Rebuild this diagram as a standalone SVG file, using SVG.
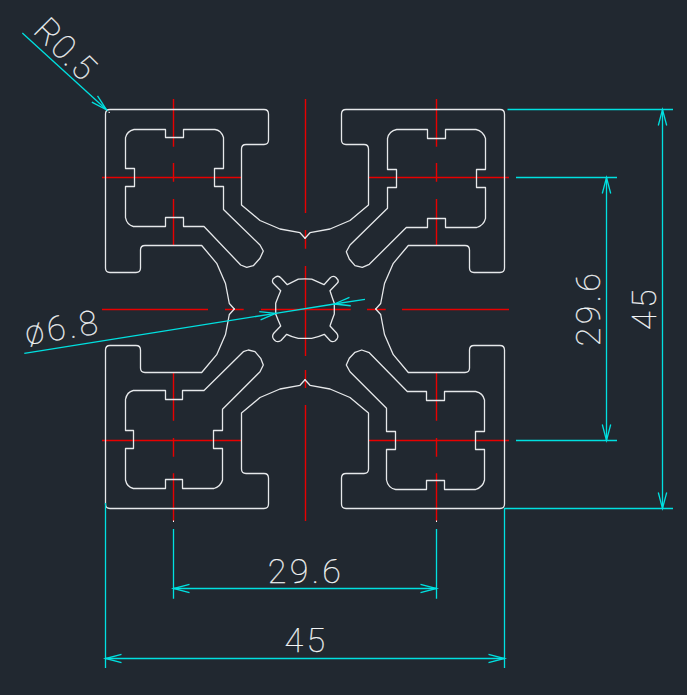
<svg xmlns="http://www.w3.org/2000/svg" width="687" height="695" viewBox="0 0 687 695">
<style>
.o{fill:none;stroke:#e6e8ea;stroke-width:1.3;stroke-linejoin:round;stroke-linecap:round}
.r{fill:none;stroke:#e80000;stroke-width:1.4}
.c{fill:none;stroke:#00e0e0;stroke-width:1.3}
.a{marker-start:url(#ah);marker-end:url(#ah)}
.e{marker-end:url(#ah)}
.t{font-family:Roboto,"Liberation Sans",sans-serif;font-weight:100;font-size:34px;letter-spacing:3.3px;fill:#f2f4f5;stroke:#f2f4f5;stroke-width:.25;text-anchor:middle}
.d{fill:#fff}
</style>
<defs>
<marker id="ah" markerUnits="userSpaceOnUse" markerWidth="20" markerHeight="12" viewBox="-18 -6 20 12" refX="0" refY="0" orient="auto-start-reverse" overflow="visible">
<path d="M-16 -4.2L0 0L-16 4.2" fill="none" stroke="#00e0e0" stroke-width="1.3"/>
</marker>
<path id="q" class="o" d="M234.3 309L229.3 303.5L225.5 283.5L216.7 263.3L201.7 245.5L145 245.5Q140.5 245.5 140.5 250L140.5 268Q140.5 272.5 136 272.5L110 272.5Q105.5 272.5 105.5 268L105.5 114Q105.5 109.5 110 109.5L264 109.5Q268.5 109.5 268.5 114L268.5 140Q268.5 144.5 264 144.5L246 144.5Q241.5 144.5 241.5 149L241.5 205L260 220.5L280 229L300 232.7L305 238.3"/>
</defs>
<rect width="687" height="695" fill="#212830"/>
<g id="center-lines" class="r">
<path d="M173.5 99V146.7M173.5 163V181.7M173.5 199V245.7M173.5 372.3V420.7M173.5 438V456.7M173.5 473.3V521"/>
<path d="M436.5 99V146.7M436.5 163V181.7M436.5 199V245.7M436.5 372.3V420.7M436.5 438V456.7M436.5 473.3V521"/>
<path d="M305.5 99V213M305.5 230V248.7M305.5 266V356M305.5 370V388M305.5 405V521"/>
<path d="M102 177.5H241M368 177.5H509M102 440.5H241M368 440.5H509"/>
<path d="M102 309.5H208M225 309.5H243.7M261 309.5H350.7M367 309.5H385.7M402 309.5H509"/>
</g>
<g id="profile">
<use href="#q"/>
<use href="#q" transform="matrix(-1 0 0 1 610 0)"/>
<use href="#q" transform="matrix(1 0 0 -1 0 618)"/>
<use href="#q" transform="matrix(-1 0 0 -1 610 618)"/>
<path id="slot-tl" class="o" d="M134 129.5H165.5V137.5H183.5V129.5H215Q221 130 223.5 137.5V168.5H214.5V186.5H223.5V209.5L260 245L263.3 251L260 258.3L253.3 265.7L246.7 267.3L240.7 265L204 226.5H183.5V217.5H165.5V226.5H133.3Q127 225 125.5 217.7V186.5H134.5V168.5H125.5V137.7Q127 131 134 129.5Z"/>
<path id="slot-tr" class="o" d="M396.7 129.5H427.5V138.5H445.5V129.5H476Q483 131 485.5 138.5V169.5H476.5V187.5H485.5V218.3Q484 225 476.7 227.5H445.5V218.5H427.5V227.5H406.3L369.3 264.3L362.3 267.3L355 265.7L349.3 259L346.3 251.7L350 245L387.5 208.3V187.5H396.5V169.5H387.5V138.5Q389 131 396.7 129.5Z"/>
<path id="slot-bl" class="o" d="M133.3 390.5H165.5V399.5H182.5V390.5H204L243.3 351.7L248.3 350L255 351.7L260.7 358.3L263.3 365L260 371.7L222.5 409.3V430.5H213.5V448.5H222.5V480Q221 486 214 488.5H182.5V479.5H165.5V488.5H133.3Q127 487 125.5 480V448.5H133.5V430.5H125.5V399.3Q127 392 133.3 390.5Z"/>
<path id="slot-br" class="o" d="M407.3 391.5H426.5V400.5H444.5V391.5H475.7Q483 393 484.5 400V431.5H475.5V449.5H484.5V480Q483 487 475.7 489.5H444.5V480.5H426.5V489.5H395.7Q388 488 386.5 480V449.5H395.5V431.5H386.5V408.3L350 371.7L346.3 365L349.3 358.3L355 352.3L361.7 350L369.3 352.7Z"/>
<path id="hole" class="o" d="M298.3 279.2Q305 278.4 311.7 279.2L324 284.7L330 278Q333 275 336 277.5L338 280Q339 282 336.5 284L330 290.7Q332 297 334.3 303.3V314Q332 320 330 326L336.5 333Q339 336 337 339L335 341Q332 342.5 330 340.5L324.3 334.3Q318 337 311.7 338.3H298.3Q292 337 286.7 334.3L281 340.5Q278 342.5 275.5 341L273.5 339Q271.5 336 274 333L280.7 326Q278 320 275.7 314V303.3Q278 297 280.7 290.7L274 284Q271.5 282 273 279L275.5 277Q278.5 275 281 278L287.3 284.7Z"/>
</g>
<g id="connectors" class="c">
<path d="M105.5 503V668M504.5 508V668M173.5 529V598.7M436.5 529V598.7"/>
<path d="M507.5 109.5H673M516 177.5H617M516 440.5H617M504 508.5H673"/>
<line class="a" x1="105.5" y1="658.5" x2="504.5" y2="658.5"/>
<line class="a" x1="173.5" y1="588.5" x2="436.5" y2="588.5"/>
<line class="a" x1="606.5" y1="177.5" x2="606.5" y2="440.5"/>
<line class="a" x1="662.5" y1="109.5" x2="662.5" y2="508.5"/>
<line class="e" x1="22.3" y1="33" x2="106.5" y2="109.8"/>
<line class="e" x1="24.3" y1="353.3" x2="275.7" y2="313.3"/>
<line x1="275.7" y1="313.3" x2="334.3" y2="304"/>
<line class="e" x1="365" y1="299.3" x2="334.3" y2="304"/>
</g>
<g id="dots" class="d">
<rect x="173" y="520.5" width="1" height="1.5"/>
<rect x="436" y="520.5" width="1" height="1.5"/>
<rect x="108.6" y="111.8" width="1.2" height="1.2"/>
</g>
<g id="labels">
<text class="t" x="306" y="582.7">29.6</text>
<text class="t" x="306.5" y="651.7">45</text>
<text class="t" transform="translate(600 308) rotate(-90)">29.6</text>
<text class="t" transform="translate(655.7 308) rotate(-90)">45</text>
<text class="t" transform="translate(32 32) rotate(45)" style="text-anchor:start;letter-spacing:1.4px">R0.5</text>
<text class="t" transform="translate(27 345) rotate(-9)" style="text-anchor:start">ø6.8</text>
</g>
</svg>
